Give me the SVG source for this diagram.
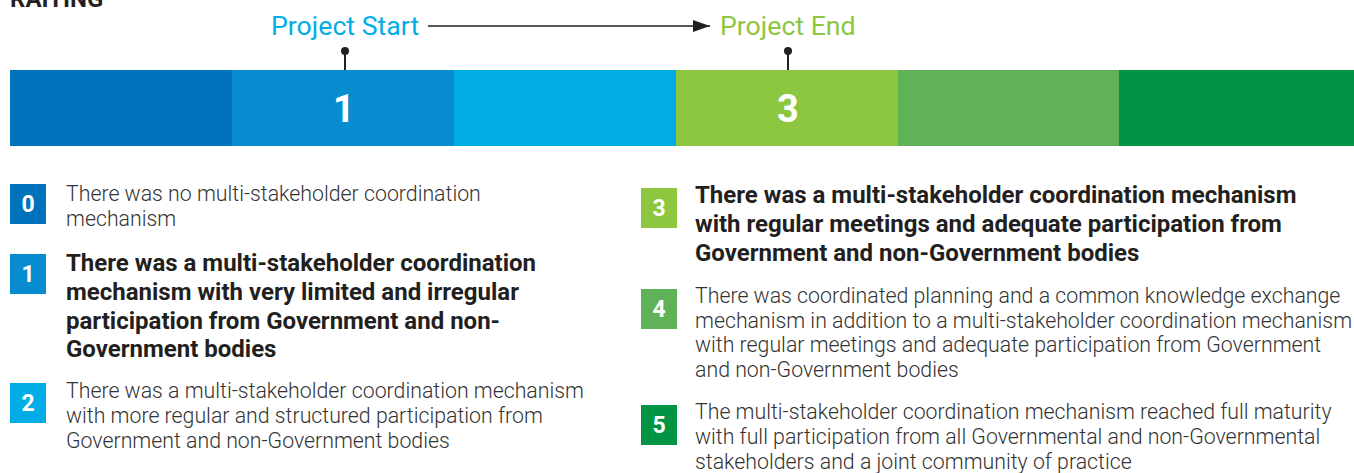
<svg xmlns="http://www.w3.org/2000/svg" width="1354" height="473" viewBox="0 0 1354 473">
  <style>
    .title { font-family: Roboto, "Liberation Sans", sans-serif; font-weight: 700; font-size: 24px; fill: #231f20; }
    .tag { font-family: Roboto, "Liberation Sans", sans-serif; font-size: 26.7px; }
    .barnum { font-family: Roboto, "Liberation Sans", sans-serif; font-weight: 700; font-size: 38px; fill: #ffffff; text-anchor: middle; }
    .badge-num { font-family: Roboto, "Liberation Sans", sans-serif; font-weight: 700; font-size: 23px; fill: #ffffff; text-anchor: middle; }
    .desc { font-family: Roboto, "Liberation Sans", sans-serif; font-weight: 300; font-size: 21.3px; fill: #333333; }
    .desc-b { font-family: Roboto, "Liberation Sans", sans-serif; font-weight: 700; font-size: 24px; fill: #231f20; }
    .tick { stroke: #231f20; stroke-width: 2; }
  </style>
  <defs>
    <marker id="arrowHead" viewBox="0 0 17 12" refX="17" refY="6" markerWidth="17" markerHeight="12" markerUnits="userSpaceOnUse" orient="auto">
      <path d="M0,0 L17,6 L0,12 Z" fill="#231f20"/>
    </marker>
  </defs>

  <rect width="1354" height="473" fill="#ffffff"/>

  <text class="title" x="10" y="7">RAITING</text>

  <!-- rating scale bar -->
  <g id="scale">
    <rect x="10" y="70" width="222" height="76" fill="#0071bb"/>
    <rect x="232" y="70" width="222" height="76" fill="#078dcf"/>
    <rect x="454" y="70" width="222" height="76" fill="#00ace5"/>
    <rect x="676" y="70" width="222" height="76" fill="#8dc63f"/>
    <rect x="898" y="70" width="221" height="76" fill="#60b258"/>
    <rect x="1119" y="70" width="235" height="76" fill="#009444"/>
    <text class="barnum" x="344" y="122">1</text>
    <text class="barnum" x="788" y="122">3</text>
  </g>

  <!-- project start / end markers -->
  <g id="project-start">
    <text class="tag" x="271" y="35" fill="#00ade6">Project Start</text>
    <line class="tick" x1="345" y1="51" x2="345" y2="70"/>
    <circle cx="345" cy="51" r="4" fill="#231f20"/>
  </g>
  <g id="project-end">
    <text class="tag" x="720" y="35" fill="#8dc63f">Project End</text>
    <line class="tick" x1="788" y1="51" x2="788" y2="70"/>
    <circle cx="788" cy="51" r="4" fill="#231f20"/>
  </g>

  <g id="connectors">
    <line x1="428" y1="26" x2="710" y2="26" stroke="#231f20" stroke-width="1.5" marker-end="url(#arrowHead)"/>
  </g>

  <!-- rating descriptions, left column -->
  <g id="rating-0">
    <rect x="10" y="184" width="36" height="40" fill="#0071bb"/>
    <text class="badge-num" x="28" y="212">0</text>
    <text class="desc" x="66" y="201">There was no multi-stakeholder coordination</text>
    <text class="desc" x="66" y="226">mechanism</text>
  </g>
  <g id="rating-1">
    <rect x="10" y="254" width="36" height="40" fill="#078dcf"/>
    <text class="badge-num" x="28" y="282">1</text>
    <text class="desc-b" x="66" y="271">There was a multi-stakeholder coordination</text>
    <text class="desc-b" x="66" y="300">mechanism with very limited and irregular</text>
    <text class="desc-b" x="66" y="329">participation from Government and non-</text>
    <text class="desc-b" x="66" y="357">Government bodies</text>
  </g>
  <g id="rating-2">
    <rect x="10" y="383" width="36" height="40" fill="#00ace5"/>
    <text class="badge-num" x="28" y="411">2</text>
    <text class="desc" x="66" y="398">There was a multi-stakeholder coordination mechanism</text>
    <text class="desc" x="66" y="423">with more regular and structured participation from</text>
    <text class="desc" x="66" y="448">Government and non-Government bodies</text>
  </g>

  <!-- rating descriptions, right column -->
  <g id="rating-3">
    <rect x="641" y="188" width="36" height="40" fill="#8dc63f"/>
    <text class="badge-num" x="659" y="216">3</text>
    <text class="desc-b" x="695" y="203">There was a multi-stakeholder coordination mechanism</text>
    <text class="desc-b" x="695" y="232">with regular meetings and adequate participation from</text>
    <text class="desc-b" x="695" y="261">Government and non-Government bodies</text>
  </g>
  <g id="rating-4">
    <rect x="641" y="289" width="36" height="40" fill="#60b258"/>
    <text class="badge-num" x="659" y="317">4</text>
    <text class="desc" x="695" y="303">There was coordinated planning and a common knowledge exchange</text>
    <text class="desc" x="695" y="328">mechanism in addition to a multi-stakeholder coordination mechanism</text>
    <text class="desc" x="695" y="352">with regular meetings and adequate participation from Government</text>
    <text class="desc" x="695" y="377">and non-Government bodies</text>
  </g>
  <g id="rating-5">
    <rect x="641" y="405" width="36" height="40" fill="#009444"/>
    <text class="badge-num" x="659" y="433">5</text>
    <text class="desc" x="695" y="419">The multi-stakeholder coordination mechanism reached full maturity</text>
    <text class="desc" x="695" y="444">with full participation from all Governmental and non-Governmental</text>
    <text class="desc" x="695" y="469">stakeholders and a joint community of practice</text>
  </g>
</svg>
